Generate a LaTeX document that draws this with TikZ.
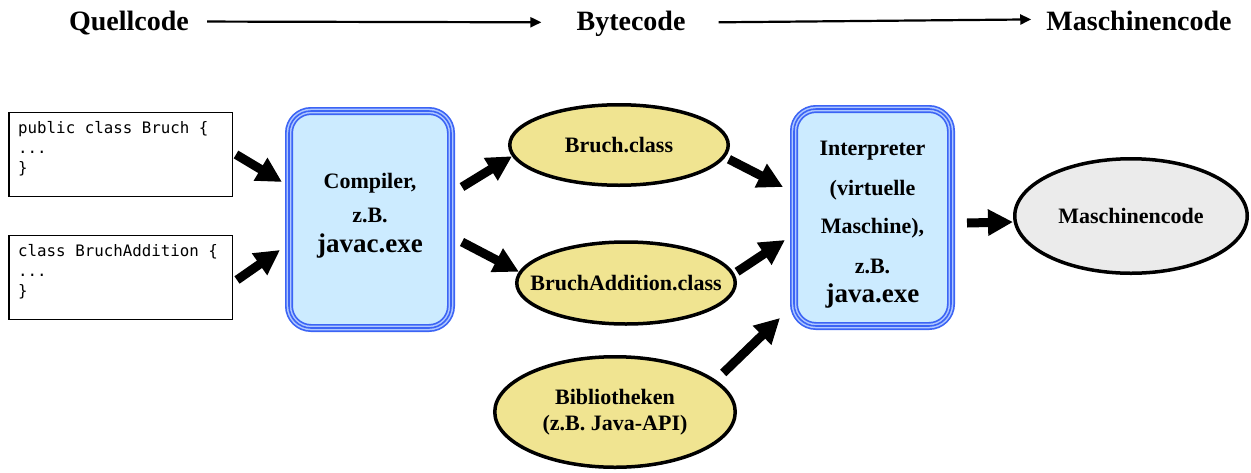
\documentclass[tikz,border=0pt]{standalone}
\usepackage{fontspec}
\setmainfont{Liberation Serif}
\newfontfamily\codefont{DejaVu Sans Mono}
\usetikzlibrary{arrows.meta,shapes.geometric}
\definecolor{bblue}{RGB}{60,100,245}
\definecolor{bstripe}{RGB}{175,200,255}
\definecolor{bfill}{RGB}{204,235,255}
\definecolor{efill}{RGB}{240,228,145}
\definecolor{gfill}{RGB}{235,235,235}
\tikzset{
 hdr/.style={font=\fontsize{28}{30}\selectfont\bfseries, inner sep=0pt, anchor=base},
 hdrarrow/.style={line width=2.2pt, -{Triangle[length=11pt,width=10pt]}},
 codebox/.style={draw=black, line width=1.5pt, fill=white, minimum width=223.5pt, minimum height=84pt, inner sep=0pt},
 codetext/.style={font=\codefont\fontsize{15.8}{20}\selectfont, align=left, inner sep=0pt, anchor=north west},
 procbox/.style={draw=bblue, fill=bfill, line width=8pt, rounded corners=22pt, minimum height=217pt, inner sep=0pt,
   postaction={draw=bstripe, line width=4.6pt}, postaction={draw=bblue, line width=1.6pt}},
 boxtext/.style={font=\fontsize{22}{24}\selectfont\bfseries, inner sep=0pt, anchor=base},
 boxbig/.style={font=\fontsize{27}{29}\selectfont\bfseries, inner sep=0pt, anchor=base},
 file/.style={ellipse, draw=black, line width=3.5pt, fill=efill, inner sep=0pt, font=\fontsize{22}{26}\selectfont\bfseries, align=center},
 bigarrow/.style={line width=9pt, -{Triangle[length=25pt,width=25pt]}},
}
\begin{document}
\begin{tikzpicture}[x=1pt,y=-1pt]
\useasboundingbox (0,0) rectangle (1251,472);
% header
\node[hdr] (q) at (129,30) {Quellcode};
\node[hdr] (b) at (631,30) {Bytecode};
\node[hdr] (m) at (1139,30) {Maschinencode};
\draw[hdrarrow] ([xshift=18pt,yshift=1pt]q.east) -- ([xshift=-35pt,yshift=1pt]b.west);
\draw[hdrarrow] ([xshift=33pt,yshift=1pt]b.east) -- ([xshift=-15pt,yshift=1pt]m.west);
% code boxes
\node[codebox] (code1) at (120.5,154.5) {};
\node[codetext] (code1t) at ([xshift=10pt,yshift=-9.5pt]code1.north west) {public class Bruch \{\\...\\\}};
\node[codebox] (code2) at (120.5,277.5) {};
\node[codetext] (code2t) at ([xshift=10pt,yshift=-9.5pt]code2.north west) {class BruchAddition \{\\...\\\}};
% compiler
\node[procbox, minimum width=162pt] (comp) at (370,219.5) {};
\node[boxtext] (comp1) at (370,188) {Compiler,};
\node[boxtext] (comp2) at (370,222) {z.B.};
\node[boxbig] (comp3) at (370,252) {javac.exe};
% interpreter
\node[procbox, minimum width=157pt] (interp) at (872.5,217.5) {};
\node[boxtext] (int1) at (872.5,155) {Interpreter};
\node[boxtext] (int2) at (872.5,195) {(virtuelle};
\node[boxtext] (int3) at (872.5,233) {Maschine),};
\node[boxtext] (int4) at (872.5,273) {z.B.};
\node[boxbig] (int5) at (872.5,302) {java.exe};
% ellipses
\node[file, minimum width=218.5pt, minimum height=80.5pt] (bc) at (619,145) {Bruch.class};
\node[file, inner xsep=-20pt, minimum width=218.5pt, minimum height=82pt] (ba) at (626,283) {BruchAddition.class};
\node[file, minimum width=240.5pt, minimum height=110.5pt] (bib) at (615,412) {Bibliotheken\\(z.B. Java-API)};
\node[file, fill=gfill, minimum width=232.5pt, minimum height=114.5pt] (mc) at (1131,216) {Maschinencode};
% arrows
\draw[bigarrow] ([xshift=3pt]code1.east) -- ([xshift=-3pt,yshift=37.5pt]comp.west);
\draw[bigarrow] ([xshift=4pt,yshift=-2.5pt]code2.east) -- ([xshift=-5pt,yshift=-30.5pt]comp.west);
\draw[bigarrow] ([xshift=7pt,yshift=32.5pt]comp.east) -- (bc.186);
\draw[bigarrow] ([xshift=7pt,yshift=-22.5pt]comp.east) -- (ba.174);
\draw[bigarrow] ([xshift=3pt,yshift=-3pt]bc.-6) -- ([xshift=-7pt,yshift=30.5pt]interp.west);
\draw[bigarrow] ([xshift=4pt]ba.6) -- ([xshift=-5pt,yshift=-22.5pt]interp.west);
\draw[bigarrow] ([xshift=12pt,yshift=4pt]bib.20) -- ([xshift=-10pt,yshift=12pt]interp.south west);
\draw[bigarrow] ([xshift=12pt,yshift=-5.5pt]interp.east) -- ([yshift=-6pt]mc.west);
\end{tikzpicture}
\end{document}
